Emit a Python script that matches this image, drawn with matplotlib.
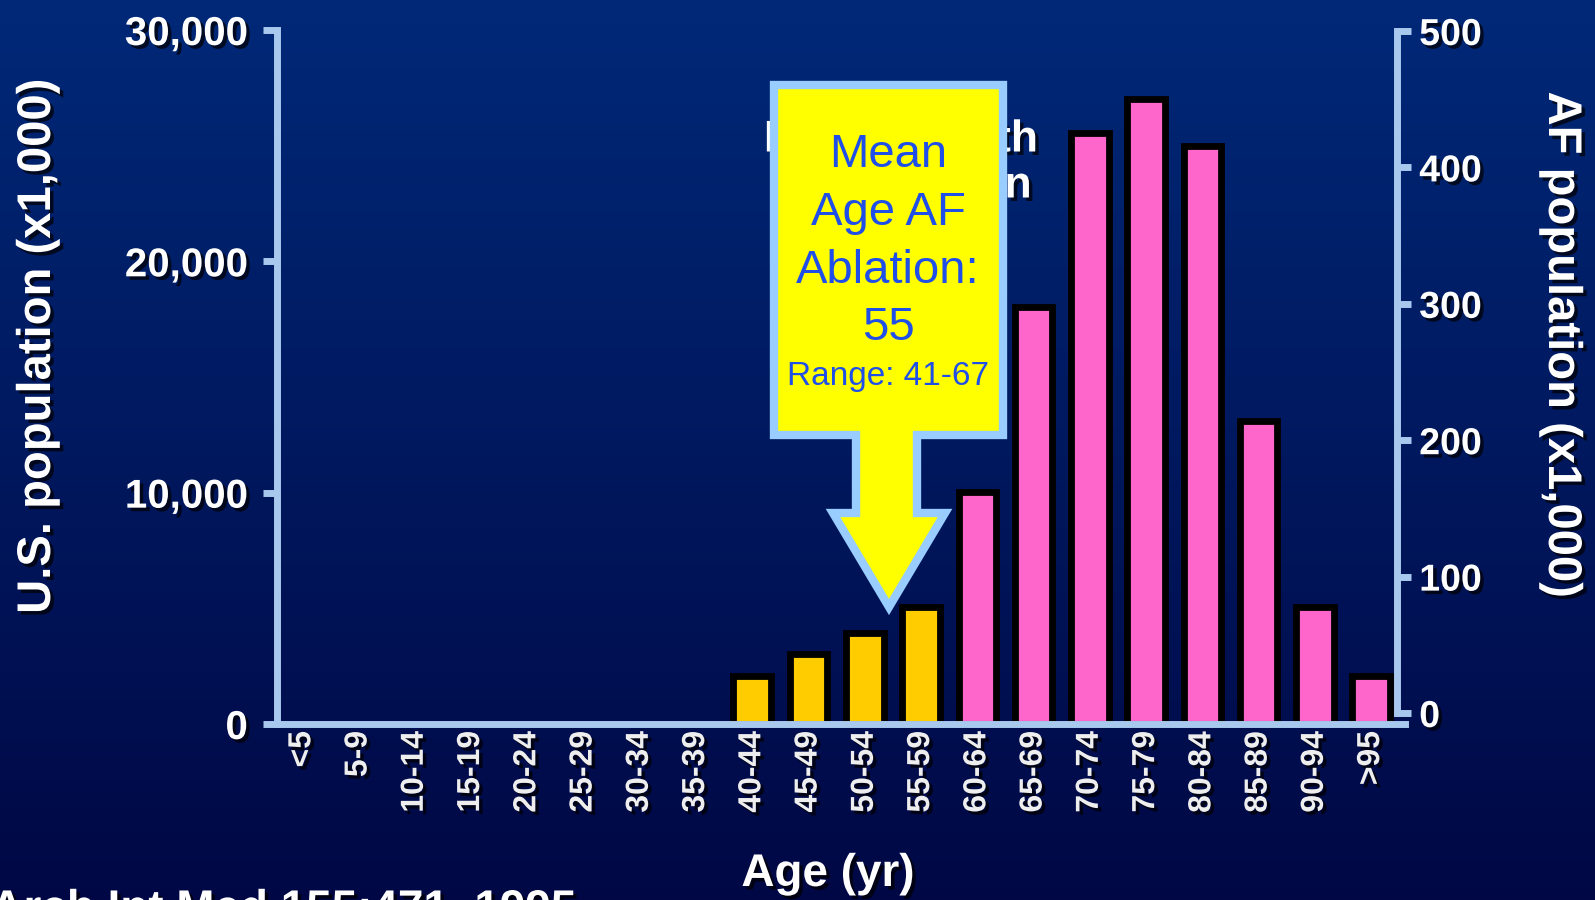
import numpy as np
import matplotlib
matplotlib.use('Agg')
import matplotlib.pyplot as plt
import matplotlib.patheffects as pe
from matplotlib.patches import Polygon

plt.rcParams['font.family'] = ['Liberation Sans', 'DejaVu Sans']

# data: AF population (x1,000) by age group
age_groups = ['<5', '5-9', '10-14', '15-19', '20-24', '25-29', '30-34', '35-39',
              '40-44', '45-49', '50-54', '55-59', '60-64', '65-69', '70-74',
              '75-79', '80-84', '85-89', '90-94', '>95']
af_pop = [0, 0, 0, 0, 0, 0, 0, 0,
          27, 43, 59, 78, 162, 298, 425, 450, 416, 214, 78, 27]
ablation_groups = ['40-44', '45-49', '50-54', '55-59']
left_ticks = [0, 10000, 20000, 30000]
right_ticks = [0, 100, 200, 300, 400, 500]
callout_lines = ['Mean', 'Age AF', 'Ablation:', '55']
callout_range = 'Range: 41-67'

W, H = 1595, 900
fig = plt.figure(figsize=(W / 100, H / 100), dpi=100)

# background gradient
bg = fig.add_axes([0, 0, 1, 1], zorder=-10)
grad = np.linspace(0, 1, 256)[:, None]
top = np.array([0.0, 0.16, 0.47])
bot = np.array([0.0, 0.03, 0.27])
img = top[None, None, :] * (1 - grad[:, :, None]) + bot[None, None, :] * grad[:, :, None]
bg.imshow(img, aspect='auto', extent=[0, 1, 0, 1])
bg.axis('off')

spine_c = '#A8C8EE'
shadow = [pe.SimplePatchShadow(offset=(2.5, -2.5), shadow_rgbFace='black', alpha=0.7), pe.Normal()]

ax = fig.add_axes([277 / W, 1 - 724 / H, (1397 - 277) / W, (724 - 30) / H])
ax.patch.set_alpha(0)
ax2 = ax.twinx()
ax2.patch.set_alpha(0)

x = np.arange(len(age_groups))
vals = np.array(af_pop)
colors = ['#FFCC00' if a in ablation_groups else '#FF66CC' for a in age_groups]
ax2.set_ylim(-8.06, 500.73)
mask = vals > 0
ax2.bar(x[mask], vals[mask] + 8.06, bottom=-8.06, width=0.67,
        color=np.array(colors)[mask], edgecolor='black', linewidth=4.9)

ax.set_xlim(-0.45, 19.46)
ax.set_ylim(0, 30000)

for s in ['top', 'right', 'bottom']:
    ax.spines[s].set_visible(False)
ax.spines['left'].set_color(spine_c)
ax.spines['left'].set_linewidth(5)
for s in ['top', 'left']:
    ax2.spines[s].set_visible(False)
ax2.spines['right'].set_color(spine_c)
ax2.spines['right'].set_linewidth(5)
ax2.spines['right'].set_bounds(0, 500)
ax2.spines['bottom'].set_color(spine_c)
ax2.spines['bottom'].set_linewidth(5)
ax2.spines['bottom'].set_bounds(-0.45, 19.6)

ax.set_yticks(left_ticks)
ax.set_yticklabels([f'{v:,}' for v in left_ticks])
ax.tick_params(axis='y', colors=spine_c, length=10, width=5, pad=11, labelsize=29,
               labelcolor='white')
ax2.set_yticks(right_ticks)
ax2.tick_params(axis='y', colors=spine_c, length=10, width=5, pad=6, labelsize=27,
                labelcolor='white')
ax.set_xticks(x)
ax.set_xticklabels(age_groups, rotation=90, va='top', ha='center')
ax.tick_params(axis='x', length=0, pad=5, labelsize=23, labelcolor='#EEEEEE')
ax2.tick_params(axis='x', length=0)
for lab in ax.get_yticklabels() + ax2.get_yticklabels() + ax.get_xticklabels():
    lab.set_fontweight('bold')
    lab.set_path_effects(shadow)

# axis titles
fig.text(38 / W, 1 - 346 / H, 'U.S. population (x1,000)', rotation=90, ha='center',
         va='center', fontsize=34, fontweight='bold', color='white', path_effects=shadow)
fig.text(1561 / W, 1 - 345 / H, 'AF population (x1,000)', rotation=270, ha='center',
         va='center', fontsize=34, fontweight='bold', color='white', path_effects=shadow)
fig.text(828 / W, 1 - 886 / H, 'Age (yr)', ha='center', va='baseline', fontsize=33,
         fontweight='bold', color='white', path_effects=shadow)
fig.text(-0.006, 1 - 922 / H, 'Arch Int Med 155:471, 1995', ha='left', va='baseline',
         fontsize=33, fontweight='bold', color='white', path_effects=shadow)

# text partly hidden behind the callout
fig.text(901 / W, 1 - 140 / H, 'Patients with', ha='center', va='center', fontsize=32,
         fontweight='bold', color='white', path_effects=shadow)
fig.text(901 / W, 1 - 186 / H, 'and ablation', ha='center', va='center', fontsize=32,
         fontweight='bold', color='white', path_effects=shadow)

# callout arrow
pts = [(774, 85), (1003, 85), (1003, 435), (917, 435), (917, 513), (945, 513),
       (889, 607), (833, 513), (856, 513), (856, 435), (774, 435)]
poly = Polygon([(px / W, 1 - py / H) for px, py in pts], closed=True,
               transform=fig.transFigure, facecolor='#FFFF00', edgecolor='#99CCFF',
               linewidth=6, joinstyle='miter', zorder=20)
fig.patches.append(poly)

line_y = [155, 213, 271, 328]
for txt, yy in zip(callout_lines, line_y):
    fig.text(888 / W, 1 - yy / H, txt, ha='center', va='center', fontsize=34,
             color='#1F4FE8', zorder=21)
fig.text(888 / W, 1 - 376 / H, callout_range, ha='center', va='center', fontsize=24,
         color='#1F4FE8', zorder=21)

fig.savefig('out.png', dpi=100)
